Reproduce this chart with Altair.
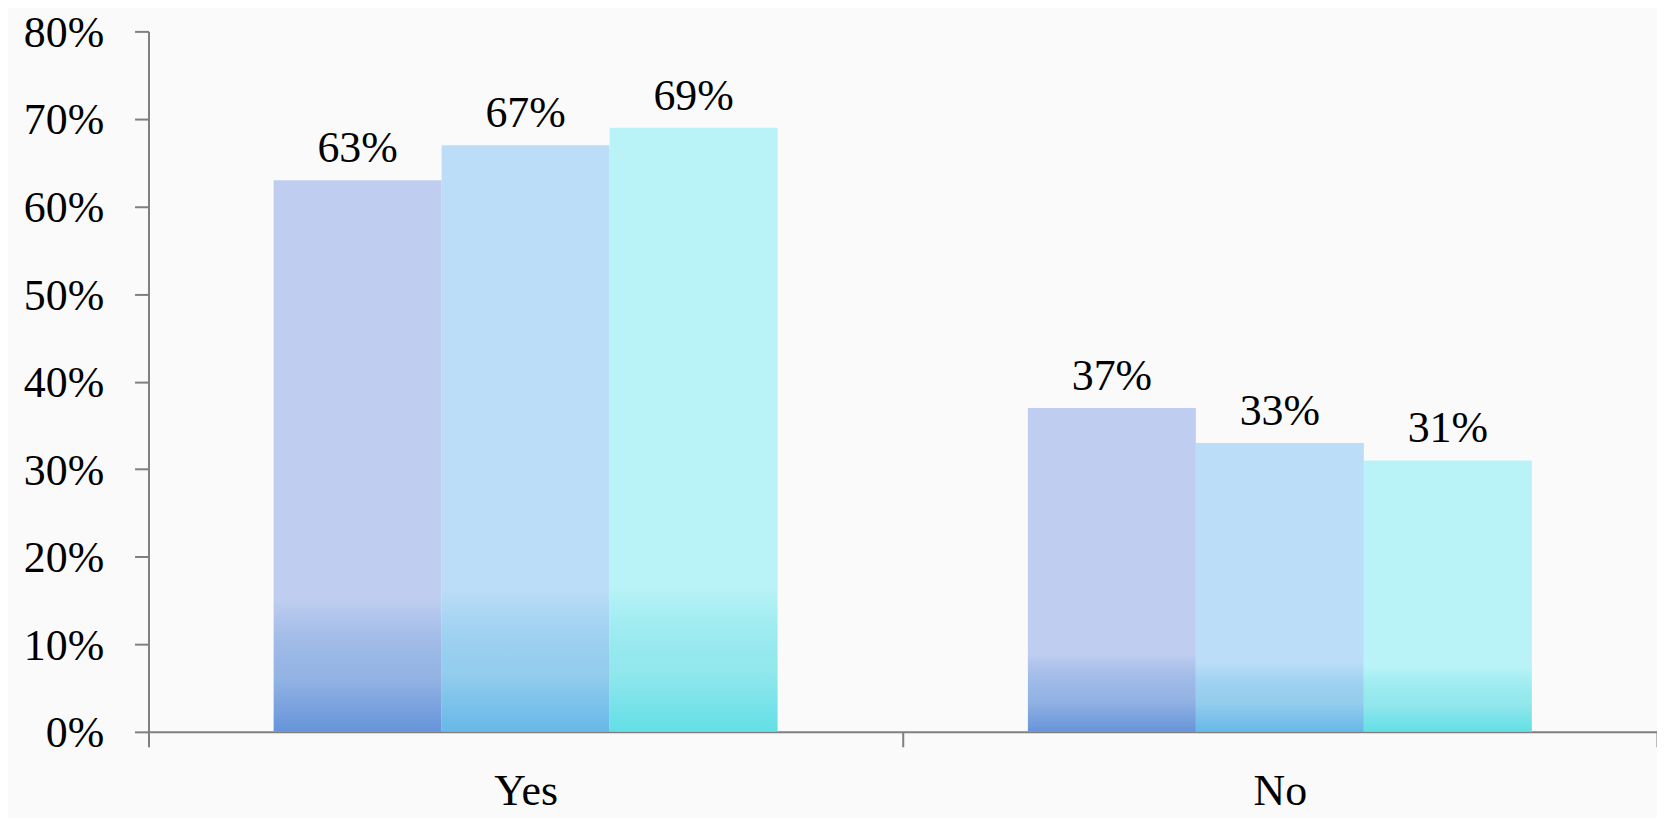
import altair as alt
import pandas as pd

categories = ["Yes", "No"]
series = ["Series 1", "Series 2", "Series 3"]
values_s1 = [0.63, 0.37]
values_s2 = [0.67, 0.33]
values_s3 = [0.69, 0.31]
top_colors = ["#BFCEF0", "#BBDDF7", "#B9F3F7"]
bottom_colors = ["#6694DA", "#66B8E8", "#62DFE6"]
y_ticks = [0.0, 0.1, 0.2, 0.3, 0.4, 0.5, 0.6, 0.7, 0.8]

rows = []
for s, vals in zip(series, [values_s1, values_s2, values_s3]):
    for c, v in zip(categories, vals):
        rows.append({"category": c, "series": s, "value": v})
df = pd.DataFrame(rows)

FONT = "Liberation Serif"
AXIS_GRAY = "#7F7F7F"

x_enc = alt.X(
    "category:N",
    sort=categories,
    scale=alt.Scale(paddingInner=0, paddingOuter=0),
    axis=alt.Axis(
        title=None,
        labelAngle=0,
        tickBand="extent",
        tickSize=15,
        labelPadding=58,
        labelBaseline="alphabetic",
        labelFontSize=44,
    ),
)
xoff_enc = alt.XOffset(
    "series:N",
    sort=series,
    scale=alt.Scale(paddingInner=0, paddingOuter=0.745),
)
y_enc = alt.Y(
    "value:Q",
    scale=alt.Scale(domain=[0, 0.8]),
    axis=alt.Axis(
        title=None,
        values=y_ticks,
        format=".0%",
        tickSize=14,
        labelPadding=31,
        labelOffset=2,
        labelFontSize=44,
        grid=False,
    ),
)

layers = []
for s, top, bottom in zip(series, top_colors, bottom_colors):
    grad = alt.Gradient(
        gradient="linear",
        x1=0, x2=0, y1=0, y2=1,
        stops=[
            alt.GradientStop(offset=0, color=top),
            alt.GradientStop(offset=0.76, color=top),
            alt.GradientStop(offset=0.9, color=bottom + "B0"),
            alt.GradientStop(offset=1, color=bottom),
        ],
    )
    base = alt.Chart(df).transform_filter(alt.datum.series == s).encode(
        x=x_enc, xOffset=xoff_enc, y=y_enc
    )
    bars = base.mark_bar(fill=grad)
    labels = base.mark_text(
        dy=-18, baseline="alphabetic", fontSize=44, font=FONT, color="black"
    ).encode(text=alt.Text("value:Q", format=".0%"))
    layers += [bars, labels]

chart = (
    alt.layer(*layers)
    .properties(
        width=1514,
        height=703,
        autosize=alt.AutoSizeParams(type="none"),
        padding={"left": 141, "top": 22, "right": 0, "bottom": 85},
        background="#FAFAFA",
    )
    .configure_view(stroke=None)
    .configure_axis(
        labelFont=FONT,
        labelColor="black",
        domainColor=AXIS_GRAY,
        domainWidth=2,
        tickColor=AXIS_GRAY,
        tickWidth=2,
    )
)

chart.save("out.html", embed_options={"renderer": "svg", "actions": False})
